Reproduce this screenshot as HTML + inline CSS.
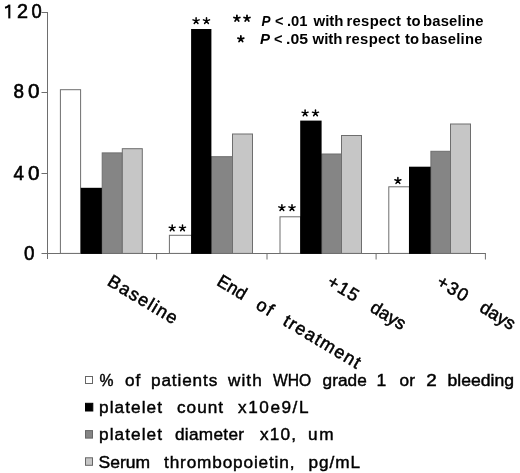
<!DOCTYPE html>
<html><head><meta charset="utf-8">
<style>
html,body{margin:0;padding:0;background:#fff;width:520px;height:473px;overflow:hidden}
svg{display:block;filter:grayscale(1)}
text{font-family:"Liberation Sans",sans-serif;fill:#000}
</style></head>
<body>
<svg width="520" height="473" viewBox="0 0 520 473">
<defs>
<g id="st" fill="none" stroke="#000" stroke-width="1.5" stroke-linecap="round">
<path d="M0 0L0 -3.2M0 0L3.04 -0.99M0 0L1.88 2.59M0 0L-1.88 2.59M0 0L-3.04 -0.99"/>
</g>
<g id="st2" fill="none" stroke="#000" stroke-width="1.75" stroke-linecap="round">
<path d="M0 0L0 -3.1M0 0L2.95 -0.96M0 0L1.82 2.51M0 0L-1.82 2.51M0 0L-2.95 -0.96"/>
</g>
</defs>
<!--CHART-->
<g stroke="#6e6e6e" stroke-width="1" fill="none">
<path d="M47.5 12V259"/>
<path d="M41.5 12.5H48M41.5 92.5H48M41.5 173.5H48M41.5 253.5H48"/>
<path d="M47.5 253.5H485.5"/>
<path d="M156.6 253V259.5M267 253V259.5M376.1 253V259.5M485.4 253V259.5"/>
</g>
<g stroke="#6e6e6e" stroke-width="1">
<rect x="60.4" y="89.7" width="20.2" height="163.7" fill="#fff"/>
<rect x="102.2" y="152.9" width="20.1" height="100.5" fill="#858585"/>
<rect x="122.3" y="148.7" width="20.0" height="104.7" fill="#c6c6c6"/>
<rect x="80.75" y="187.8" width="21.15" height="66.1" fill="#000" stroke="none"/>
<rect x="169.4" y="235.3" width="22.2" height="18.1" fill="#fff"/>
<rect x="211.3" y="156.7" width="21.2" height="96.7" fill="#858585"/>
<rect x="232.5" y="134.0" width="20.0" height="119.4" fill="#c6c6c6"/>
<rect x="191.1" y="29.0" width="20.30" height="224.9" fill="#000" stroke="none"/>
<rect x="280.0" y="216.8" width="20.6" height="36.6" fill="#fff"/>
<rect x="321.8" y="154.0" width="19.7" height="99.4" fill="#858585"/>
<rect x="341.5" y="135.5" width="20.0" height="117.9" fill="#c6c6c6"/>
<rect x="300.2" y="120.6" width="21.40" height="133.3" fill="#000" stroke="none"/>
<rect x="388.8" y="186.8" width="20.6" height="66.6" fill="#fff"/>
<rect x="430.9" y="151.3" width="19.6" height="102.1" fill="#858585"/>
<rect x="450.5" y="124.0" width="20.0" height="129.4" fill="#c6c6c6"/>
<rect x="409.0" y="166.7" width="21.70" height="87.2" fill="#000" stroke="none"/>
</g>
<use href="#st" x="172.2" y="228.15"/><use href="#st" x="182.5" y="228.15"/>
<use href="#st" x="196.1" y="20.85"/><use href="#st" x="206.5" y="20.85"/>
<use href="#st" x="281.9" y="207.85"/><use href="#st" x="292" y="207.85"/>
<use href="#st" x="305.1" y="113.15"/><use href="#st" x="315.5" y="113.15"/>
<use href="#st" x="397.9" y="180.75"/>
<g stroke-width="1.8"><use href="#st2" x="236.9" y="18.45"/><use href="#st2" x="247" y="18.45"/>
<use href="#st2" x="240.85" y="39.05"/></g>

<g stroke="#666" stroke-width="1">
<rect x="85.5" y="376.5" width="7" height="7" fill="#fff"/>
<rect x="85.5" y="403.3" width="7.3" height="7.7" fill="#000" stroke="#000"/>
<rect x="85.5" y="430.6" width="7" height="7.5" fill="#858585"/>
<rect x="85.5" y="457.8" width="7" height="7.5" fill="#c6c6c6"/>
</g>
<g fill="none" stroke="#000" stroke-linecap="butt"><path d="M9.3 18.4V4.6" stroke-width="2.1"/><path d="M9.1 5.3C8.2 6.7 6.8 7.5 5 7.8" stroke-width="1.9"/></g>
<text x="99.50" y="386.00" font-size="17.2" font-weight="normal" font-style="normal" textLength="14.00" lengthAdjust="spacingAndGlyphs" stroke="#000" stroke-width="0.45">%</text>
<text x="125.00" y="386.00" font-size="17.2" font-weight="normal" font-style="normal" textLength="15.25" lengthAdjust="spacing" stroke="#000" stroke-width="0.45">of</text>
<text x="151.00" y="386.00" font-size="17.2" font-weight="normal" font-style="normal" textLength="66.25" lengthAdjust="spacing" stroke="#000" stroke-width="0.45">patients</text>
<text x="228.00" y="386.00" font-size="17.2" font-weight="normal" font-style="normal" textLength="33.75" lengthAdjust="spacing" stroke="#000" stroke-width="0.45">with</text>
<text x="273.00" y="386.00" font-size="17.2" font-weight="normal" font-style="normal" textLength="38.25" lengthAdjust="spacingAndGlyphs" stroke="#000" stroke-width="0.45">WHO</text>
<text x="322.50" y="386.00" font-size="17.2" font-weight="normal" font-style="normal" textLength="44.25" lengthAdjust="spacing" stroke="#000" stroke-width="0.45">grade</text>
<text x="376.50" y="386.00" font-size="17.2" font-weight="normal" font-style="normal" textLength="9.75" lengthAdjust="spacingAndGlyphs" stroke="#000" stroke-width="0.45">1</text>
<text x="399.50" y="386.00" font-size="17.2" font-weight="normal" font-style="normal" textLength="15.50" lengthAdjust="spacing" stroke="#000" stroke-width="0.45">or</text>
<text x="426.25" y="386.00" font-size="17.2" font-weight="normal" font-style="normal" textLength="10.50" lengthAdjust="spacingAndGlyphs" stroke="#000" stroke-width="0.45">2</text>
<text x="447.50" y="386.00" font-size="17.2" font-weight="normal" font-style="normal" textLength="66.50" lengthAdjust="spacingAndGlyphs" stroke="#000" stroke-width="0.45">bleeding</text>
<text x="99.00" y="413.10" font-size="17.2" font-weight="normal" font-style="normal" textLength="63.00" lengthAdjust="spacing" stroke="#000" stroke-width="0.45">platelet</text>
<text x="177.00" y="413.10" font-size="17.2" font-weight="normal" font-style="normal" textLength="46.00" lengthAdjust="spacing" stroke="#000" stroke-width="0.45">count</text>
<text x="238.00" y="413.10" font-size="17.2" font-weight="normal" font-style="normal" textLength="70.50" lengthAdjust="spacing" stroke="#000" stroke-width="0.45">x10e9/L</text>
<text x="99.00" y="439.80" font-size="17.2" font-weight="normal" font-style="normal" textLength="63.00" lengthAdjust="spacing" stroke="#000" stroke-width="0.45">platelet</text>
<text x="175.00" y="439.80" font-size="17.2" font-weight="normal" font-style="normal" textLength="69.00" lengthAdjust="spacing" stroke="#000" stroke-width="0.45">diameter</text>
<text x="260.00" y="439.80" font-size="17.2" font-weight="normal" font-style="normal" textLength="36.00" lengthAdjust="spacing" stroke="#000" stroke-width="0.45">x10,</text>
<text x="308.00" y="439.80" font-size="17.2" font-weight="normal" font-style="normal" textLength="25.50" lengthAdjust="spacing" stroke="#000" stroke-width="0.45">um</text>
<text x="98.50" y="467.70" font-size="17.2" font-weight="normal" font-style="normal" textLength="51.50" lengthAdjust="spacingAndGlyphs" stroke="#000" stroke-width="0.45">Serum</text>
<text x="164.00" y="467.70" font-size="17.2" font-weight="normal" font-style="normal" textLength="130.50" lengthAdjust="spacing" stroke="#000" stroke-width="0.45">thrombopoietin,</text>
<text x="308.50" y="467.70" font-size="17.2" font-weight="normal" font-style="normal" textLength="51.50" lengthAdjust="spacing" stroke="#000" stroke-width="0.45">pg/mL</text>
<text x="261.50" y="25.80" font-size="14.8" font-weight="bold" font-style="italic" textLength="9.00" lengthAdjust="spacingAndGlyphs">P</text>
<text x="275.00" y="25.80" font-size="14.8" font-weight="bold" font-style="normal" textLength="8.50" lengthAdjust="spacingAndGlyphs">&lt;</text>
<text x="287.00" y="25.80" font-size="14.8" font-weight="bold" font-style="normal" textLength="20.50" lengthAdjust="spacingAndGlyphs">.01</text>
<text x="313.50" y="25.80" font-size="14.8" font-weight="bold" font-style="normal" textLength="30.00" lengthAdjust="spacingAndGlyphs">with</text>
<text x="346.50" y="25.80" font-size="14.8" font-weight="bold" font-style="normal" textLength="54.50" lengthAdjust="spacing">respect</text>
<text x="406.50" y="25.80" font-size="14.8" font-weight="bold" font-style="normal" textLength="14.00" lengthAdjust="spacingAndGlyphs">to</text>
<text x="423.00" y="25.80" font-size="14.8" font-weight="bold" font-style="normal" textLength="60.50" lengthAdjust="spacing">baseline</text>
<text x="260.00" y="43.85" font-size="14.8" font-weight="bold" font-style="italic" textLength="10.00" lengthAdjust="spacingAndGlyphs">P</text>
<text x="274.00" y="43.85" font-size="14.8" font-weight="bold" font-style="normal" textLength="8.50" lengthAdjust="spacingAndGlyphs">&lt;</text>
<text x="286.00" y="43.85" font-size="14.8" font-weight="bold" font-style="normal" textLength="22.00" lengthAdjust="spacingAndGlyphs">.05</text>
<text x="312.50" y="43.85" font-size="14.8" font-weight="bold" font-style="normal" textLength="30.00" lengthAdjust="spacingAndGlyphs">with</text>
<text x="345.50" y="43.85" font-size="14.8" font-weight="bold" font-style="normal" textLength="54.50" lengthAdjust="spacing">respect</text>
<text x="405.00" y="43.85" font-size="14.8" font-weight="bold" font-style="normal" textLength="14.00" lengthAdjust="spacingAndGlyphs">to</text>
<text x="421.50" y="43.85" font-size="14.8" font-weight="bold" font-style="normal" textLength="61.00" lengthAdjust="spacing">baseline</text>
<text x="17.00" y="18.30" font-size="20" font-weight="normal" font-style="normal" textLength="11.00" lengthAdjust="spacingAndGlyphs" stroke="#000" stroke-width="0.6">2</text>
<text x="31.50" y="18.30" font-size="20" font-weight="normal" font-style="normal" textLength="10.20" lengthAdjust="spacingAndGlyphs" stroke="#000" stroke-width="0.6">0</text>
<text x="13.50" y="98.30" font-size="20" font-weight="normal" font-style="normal" textLength="10.50" lengthAdjust="spacingAndGlyphs" stroke="#000" stroke-width="0.6">8</text>
<text x="28.00" y="98.30" font-size="20" font-weight="normal" font-style="normal" textLength="11.50" lengthAdjust="spacingAndGlyphs" stroke="#000" stroke-width="0.6">0</text>
<text x="13.50" y="179.70" font-size="20" font-weight="normal" font-style="normal" textLength="10.50" lengthAdjust="spacingAndGlyphs" stroke="#000" stroke-width="0.6">4</text>
<text x="28.00" y="179.70" font-size="20" font-weight="normal" font-style="normal" textLength="11.50" lengthAdjust="spacingAndGlyphs" stroke="#000" stroke-width="0.6">0</text>
<text x="24.00" y="259.70" font-size="20" font-weight="normal" font-style="normal" textLength="10.50" lengthAdjust="spacingAndGlyphs" stroke="#000" stroke-width="0.6">0</text>
<g transform="translate(107.20 285.10) rotate(31.0)"><text x="-1.00" y="0" font-size="18" textLength="78.00" lengthAdjust="spacing" stroke="#000" stroke-width="0.5">Baseline</text></g>
<g transform="translate(216.65 285.10) rotate(31.0)"><text x="-1.00" y="0" font-size="18" textLength="31.00" lengthAdjust="spacingAndGlyphs" stroke="#000" stroke-width="0.5">End</text><text x="44.50" y="0" font-size="18" textLength="16.50" lengthAdjust="spacing" stroke="#000" stroke-width="0.5">of</text><text x="76.00" y="0" font-size="18" textLength="87.00" lengthAdjust="spacing" stroke="#000" stroke-width="0.5">treatment</text></g>
<g transform="translate(326.10 285.10) rotate(31.0)"><text x="0.00" y="0" font-size="18" textLength="33.00" lengthAdjust="spacing" stroke="#000" stroke-width="0.5">+15</text><text x="50.00" y="0" font-size="18" textLength="38.00" lengthAdjust="spacingAndGlyphs" stroke="#000" stroke-width="0.5">days</text></g>
<g transform="translate(435.55 285.10) rotate(31.0)"><text x="0.00" y="0" font-size="18" textLength="33.00" lengthAdjust="spacing" stroke="#000" stroke-width="0.5">+30</text><text x="50.00" y="0" font-size="18" textLength="38.00" lengthAdjust="spacingAndGlyphs" stroke="#000" stroke-width="0.5">days</text></g>
</svg>
</body></html>
